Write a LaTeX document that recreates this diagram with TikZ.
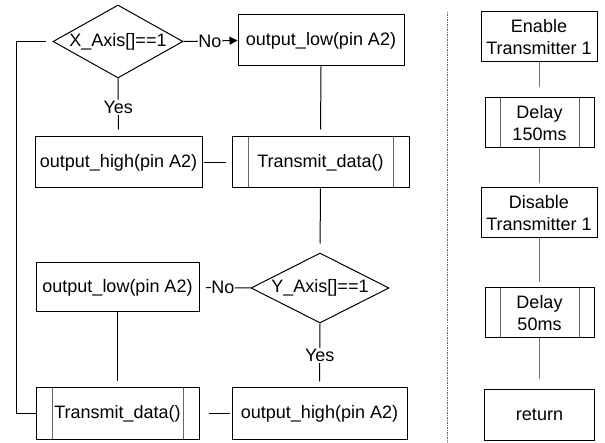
\documentclass[tikz,border=0pt]{standalone}
\usepackage{fontspec}
\setmainfont{Liberation Sans}
\usetikzlibrary{shapes.geometric,arrows.meta}
\tikzset{
  txt/.style={font=\fontsize{18}{21.5}\selectfont},
  box/.style={draw, line width=1pt, inner sep=0pt, align=center, txt},
  procbox/.style={box},
  subbox/.style={box, path picture={
      \draw[line width=1pt, draw=black!60]
        ([xshift=#1]path picture bounding box.north west) -- ([xshift=#1]path picture bounding box.south west)
        ([xshift=-#1]path picture bounding box.north east) -- ([xshift=-#1]path picture bounding box.south east);}},
  subbox/.default=15pt,
  decision/.style={diamond, draw, line width=1pt, inner sep=0pt, txt},
  link/.style={line width=1pt},
  greylink/.style={line width=1pt, draw=black!55},
  lbl/.style={fill=white, inner xsep=0.5pt, inner ysep=1pt, txt},
  flowarrow/.style={-{Triangle[length=8pt,width=8pt]}}
}
\begin{document}
\begin{tikzpicture}[x=1pt,y=-1pt]
\useasboundingbox (0,0) rectangle (605,443);

% main loop
\node[decision, minimum width=130pt, minimum height=73pt] (dx) at (118,41.5) {\makebox[0pt]{X\_Axis[]==1}};
\node[procbox, minimum width=166pt, minimum height=51pt] (lowX) at (321,40.5) {output\_low(pin A2)};
\node[subbox=16pt, minimum width=177pt, minimum height=51pt] (tx1) at (320.5,162.5) {Transmit\_data()};
\node[procbox, minimum width=167pt, minimum height=51pt] (hiX) at (118.5,162.5) {output\_high(pin A2)};
\node[decision, minimum width=138pt, minimum height=70pt] (dy) at (320,288) {\makebox[0pt]{Y\_Axis[]==1}};
\node[procbox, minimum width=163pt, minimum height=49pt] (lowY) at (117.5,287.5) {output\_low(pin A2)};
\node[subbox=16pt, minimum width=163pt, minimum height=51pt] (tx2) at (117.5,413.5) {Transmit\_data()};
\node[procbox, minimum width=175pt, minimum height=51pt] (hiY) at (319.5,413.5) {output\_high(pin A2)};
\coordinate (lft) at (16,0);

\draw[link, flowarrow] (dx.east) -- node[lbl, pos=0.49] {No} (lowX.west);
\draw[link, shorten >=7pt] (dx.south) -- node[lbl] {Yes} (hiX.north);
\draw[link, shorten >=7pt] (lowX.south) -- (tx1.north);
\draw[link, shorten <=6pt, shorten >=1pt] (tx1.west) -- (hiX.east);
\draw[link, shorten >=9pt] (tx1.south) -- (dy.north);
\draw[link, shorten >=6.5pt] (dy.west) -- node[lbl, pos=0.54] {No} (lowY.east);
\draw[link, shorten >=6pt] (dy.south) -- node[lbl] {Yes} (hiY.north);
\draw[link, shorten >=6pt] (lowY.south) -- (tx2.north);
\draw[link, shorten <=2pt, shorten >=9pt] (hiY.west) -- (tx2.east);
\draw[link, shorten <=7pt] (dx.west) -- (dx.west -| lft) |- (tx2.west);

% separator
\draw[draw=black!60, line width=0.9pt, dash pattern=on 1.5pt off 1pt] (447,12) -- (447,443);

% transmit routine
\node[procbox, minimum width=116pt, minimum height=50pt] (en) at (539,37) {Enable\\Transmitter 1};
\node[subbox=15pt, minimum width=109pt, minimum height=50pt] (d1) at (539.5,123) {Delay\\150ms};
\node[procbox, minimum width=116pt, minimum height=50pt] (dis) at (539,213) {Disable\\Transmitter 1};
\node[subbox=15pt, minimum width=109pt, minimum height=50pt] (d2) at (539.5,313) {Delay\\50ms};
\node[procbox, minimum width=110pt, minimum height=50pt] (ret) at (539.5,415) {return};

\draw[greylink, shorten >=10pt] (en.south) -- (en.south |- d1.north);
\draw[greylink, shorten >=4pt] (d1.south) -- (d1.south |- dis.north);
\draw[greylink, shorten >=5pt] (dis.south) -- (dis.south |- d2.north);
\draw[greylink, shorten >=10pt] (d2.south) -- (ret.north);
\end{tikzpicture}
\end{document}
